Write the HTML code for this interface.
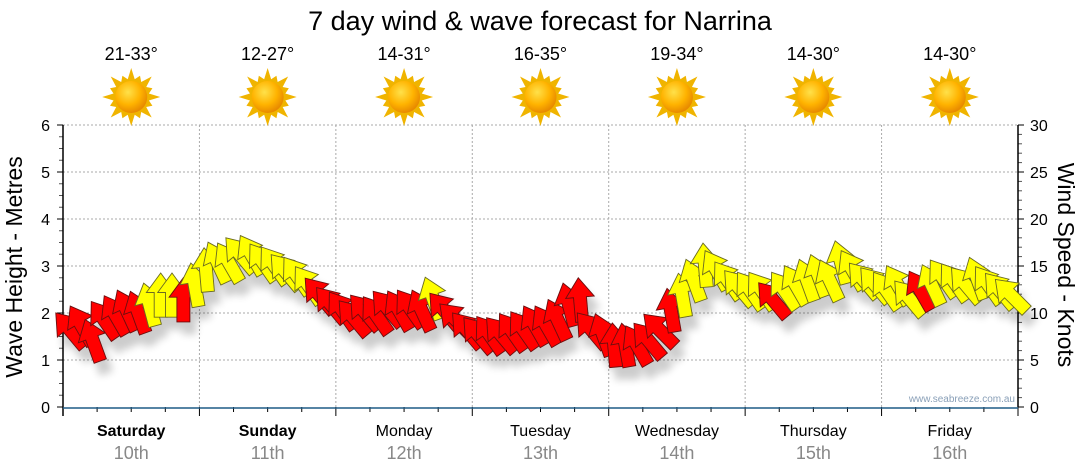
<!DOCTYPE html>
<html><head><meta charset="utf-8"><style>
html,body{margin:0;padding:0;background:#fff;}
svg{display:block;font-family:"Liberation Sans",sans-serif;}
</style></head><body>
<svg id="c" width="1080" height="475" viewBox="0 0 1080 475">
<defs>
<filter id="sh" x="-50%" y="-50%" width="200%" height="200%"><feGaussianBlur in="SourceAlpha" stdDeviation="4"/><feOffset dx="6" dy="12"/><feComponentTransfer><feFuncA type="linear" slope="0.2"/></feComponentTransfer><feMerge><feMergeNode/><feMergeNode in="SourceGraphic"/></feMerge></filter>
<radialGradient id="sun" cx="40%" cy="35%" r="65%"><stop offset="0" stop-color="#ffe14a"/><stop offset="0.6" stop-color="#ffb300"/><stop offset="1" stop-color="#e88a00"/></radialGradient>
</defs>
<text x="540" y="30" text-anchor="middle" font-size="27" fill="#000">7 day wind &amp; wave forecast for Narrina</text>
<g id="grid"></g>
<g id="axes"></g>
<g id="marks" filter="url(#sh)"></g>
<text x="1015" y="402" text-anchor="end" font-size="10" fill="#8aa0b8">www.seabreeze.com.au</text>
<text transform="translate(22,267) rotate(-90)" text-anchor="middle" font-size="23" fill="#000">Wave Height - Metres</text>
<text transform="translate(1058,265) rotate(90)" text-anchor="middle" font-size="23" fill="#000">Wind Speed - Knots</text>
</svg>
<script>
const days = ["Saturday","Sunday","Monday","Tuesday","Wednesday","Thursday","Friday"];
const dates = ["10th","11th","12th","13th","14th","15th","16th"];
const temps = ["21-33°","12-27°","14-31°","16-35°","19-34°","14-30°","14-30°"];
const waveTicks = [0,1,2,3,4,5,6];
const windTicks = [0,5,10,15,20,25,30];
const windSpeed = [8.2,8.7,7.1,9.3,9.8,10.3,10.1,10.9,11.9,11.9,11.4,13,14.6,15.4,15.4,16.2,16.2,15.4,15.1,14.4,14,13,11.9,10.9,10.3,9.5,10.1,9.8,10.5,10.3,10.5,10.3,11.6,10.3,9.3,8.2,7.7,7.7,7.7,8,8.2,8.7,8.7,9.3,10.9,11.4,8.2,7.7,6.6,6.6,6.6,7.1,8.2,10.3,11.9,13.5,15.1,14.6,13.5,12.7,12.4,12.4,11.4,12.4,13,13.5,14,13.5,15.4,14.6,13.5,13,12.4,13,11.6,12.4,13,13.7,13.3,13,13.7,13,12.4,11.9];
const windDir = [-40,-30,-20,-35,-30,-25,-20,-15,0,0,0,-10,-5,-25,-30,-40,-30,-35,-35,-40,-35,-35,-40,-40,-35,-40,-40,-35,-40,-30,-35,-25,-20,-40,-45,-40,-40,-35,-40,-35,-35,-30,-30,-25,-15,-5,-40,-20,-5,-10,-30,-40,-45,-10,-10,-20,-5,-30,-35,-40,-35,-35,-40,-35,-30,-20,-20,-25,-15,-30,-40,-40,-35,-30,-40,-30,-25,-35,-35,-40,-20,-35,-40,-45];
const windCol = "rrrrrrryyyryyyyyyyyyyyrrrrrrrrrryrrrrrrrrrrrrrrrrrrrrryyyyyyyyryyyyyyyyyyyyryyyyyyyyyy";

const NS="http://www.w3.org/2000/svg";
const X0=63, X1=1018, YT=125, YB=407;
const dayW=(X1-X0)/7;
const yWave=v=>YB-(v/6)*(YB-YT);
const yWind=k=>YB-(k/30)*(YB-YT);
const xIdx=i=>X0+7+i*(X1-X0-14)/(windSpeed.length-1);
function el(t,a,p){const e=document.createElementNS(NS,t);for(const k in a)e.setAttribute(k,a[k]);(p||document.getElementById('c')).appendChild(e);return e;}
const grid=document.getElementById('grid'), axes=document.getElementById('axes'), marks=document.getElementById('marks');

waveTicks.forEach(v=>{
  const y=yWave(v);
  if(v>0){const g=el('line',{x1:X0,x2:X1,y1:y,y2:y,stroke:'#aaa','stroke-dasharray':'2,2'},grid);
  
  }
  const t=el('text',{x:50,y:y+6,'text-anchor':'end','font-size':16,fill:'#000'},axes);t.textContent=v;
  
  
  el('line',{x1:X0-6,x2:X0,y1:y,y2:y,stroke:'#000'},axes);
});
for(let i=0;i<24;i++){const y=yWave(i/4);if(i%4)el('line',{x1:X0-4,x2:X0,y1:y,y2:y,stroke:'#555'},axes);}
windTicks.forEach(k=>{
  const y=yWind(k);
  const t=el('text',{x:1030,y:y+6,'font-size':16,fill:'#000'},axes);t.textContent=k;
  
  
  el('line',{x1:X1,x2:X1+6,y1:y,y2:y,stroke:'#000'},axes);
});
for(let k=0;k<30;k++){if(k%5){const y=yWind(k);el('line',{x1:X1,x2:X1+4,y1:y,y2:y,stroke:'#555'},axes);}}
for(let d=1;d<7;d++){const x=X0+d*dayW;const g=el('line',{x1:x,x2:x,y1:YT,y2:YB,stroke:'#aaa','stroke-dasharray':'2,2'},grid);
  
  }
for(let q=0;q<=28;q++){const x=X0+q*dayW/4;el('line',{x1:x,x2:x,y1:YB,y2:YB+(q%4?5:9),stroke:'#000'},axes);}
el('line',{x1:X0,x2:X0,y1:YT,y2:YB+9,stroke:'#000','stroke-width':1.5},axes);
el('line',{x1:X1,x2:X1,y1:YT,y2:YB,stroke:'#000','stroke-width':1.5},axes);
el('line',{x1:X0,x2:X1,y1:YB+1,y2:YB+1,stroke:'#1f5b86','stroke-width':1.5},axes);

days.forEach((d,i)=>{
  const cx=X0+(i+0.5)*dayW;
  const t=el('text',{x:cx,y:436,'text-anchor':'middle','font-size':16,fill:'#000','font-weight':i<2?'bold':'normal'},axes);t.textContent=d;
  
  
  const t2=el('text',{x:cx,y:459,'text-anchor':'middle','font-size':18,fill:'#888'},axes);t2.textContent=dates[i];
  
  
  const t3=el('text',{x:cx,y:60,'text-anchor':'middle','font-size':18,fill:'#000'});t3.textContent=temps[i];
  
  
  const g=el('g',{transform:`translate(${cx},97)`});
  
  
  let pts='';
  for(let r=0;r<32;r++){const a=r*Math.PI/16;const R=r%2?18:(r%4?23:29);pts+=(R*Math.sin(a)).toFixed(1)+','+(-R*Math.cos(a)).toFixed(1)+' ';}
  el('polygon',{points:pts,fill:'#f0b400'},g);
  el('circle',{r:16,fill:'url(#sun)'},g);
});

windSpeed.forEach((k,i)=>{
  const x=xIdx(i), y=yWind(k);
  const red=windCol[i]==='r';
  const p=el('path',{d:'M0,-17 L11,-2 L5,-2 L5,17 L-5,17 L-5,-2 L-11,-2 Z',transform:`translate(${x.toFixed(1)},${y.toFixed(1)}) rotate(${windDir[i]}) scale(1.3)`,fill:red?'#ff0000':'#ffff00',stroke:red?'#6a1010':'#6a6a20','stroke-width':0.7},marks);
  
  
});
</script>
</body></html>
